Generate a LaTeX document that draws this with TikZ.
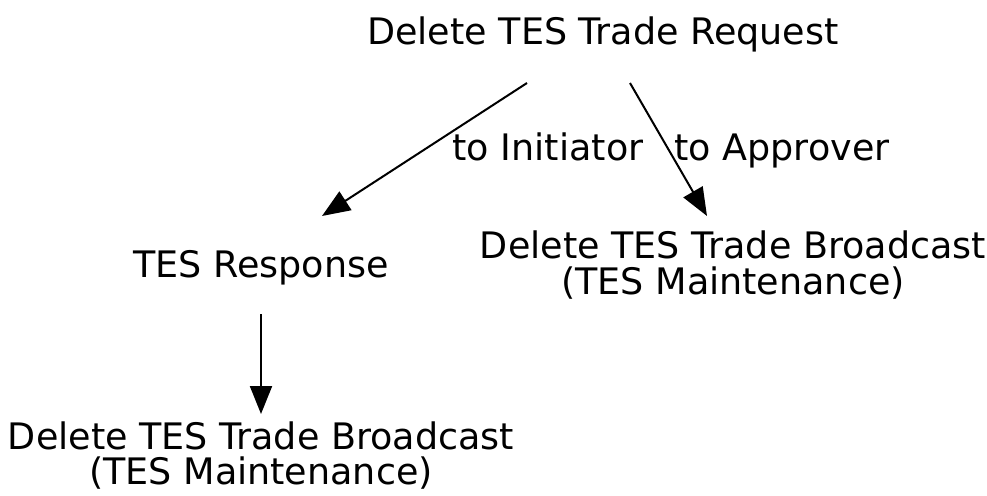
\documentclass[tikz,border=0pt]{standalone}
\usepackage{fontspec}
\setmainfont{DejaVu Sans}
\usetikzlibrary{arrows.meta}
\begin{document}
\begin{tikzpicture}[x=1pt,y=-1pt,
  lbl/.style={inner sep=0pt,align=center,font=\fontsize{36.5}{36}\selectfont,anchor=base},
  edge/.style={line width=2pt,-{Triangle[length=28pt,width=22pt]}}]
\useasboundingbox (0,0) rectangle (987,495);
\node[lbl] (req) at (603,45) {Delete TES Trade Request};
\node[lbl] (resp) at (261,277) {TES Response};
\node[lbl,anchor=north] (bc1) at (733,231) {Delete TES Trade Broadcast\\(TES Maintenance)};
\node[lbl,anchor=north,font=\fontsize{36.5}{35}\selectfont] (bc2) at (261,422) {Delete TES Trade Broadcast\\(TES Maintenance)};
\coordinate (a1s) at (527,83);
\coordinate (a1e) at (322,216);
\coordinate (a2s) at (630,83);
\coordinate (a2e) at (707,216);
\coordinate (a3s) at (261,314);
\coordinate (a3e) at (261,414);
\draw[edge] (a1s) -- (a1e);
\draw[edge] (a2s) -- (a2e);
\draw[edge] (a3s) -- (a3e);
\node[lbl] (l1) at (548,160) {to Initiator};
\node[lbl] (l2) at (782,160) {to Approver};
\end{tikzpicture}
\end{document}
